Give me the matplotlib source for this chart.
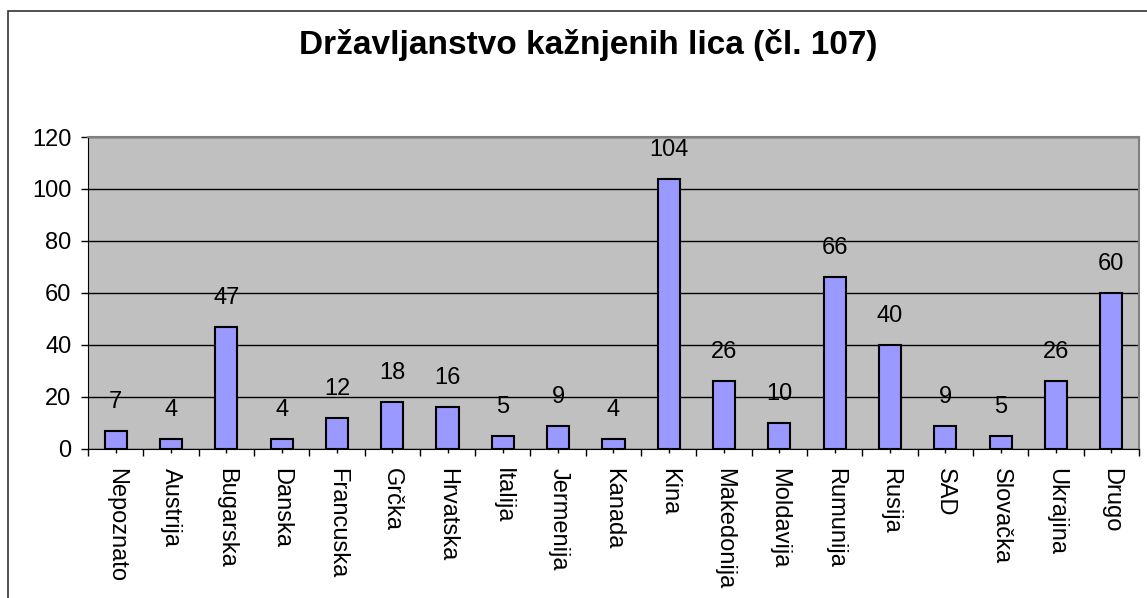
import matplotlib.pyplot as plt
import numpy as np
from matplotlib.patches import Rectangle

plt.rcParams['font.family'] = ['Liberation Sans', 'DejaVu Sans']

countries = ['Nepoznato', 'Austrija', 'Bugarska', 'Danska', 'Francuska', 'Grčka',
             'Hrvatska', 'Italija', 'Jermenija', 'Kanada', 'Kina', 'Makedonija',
             'Moldavija', 'Rumunija', 'Rusija', 'SAD', 'Slovačka', 'Ukrajina', 'Drugo']
counts = [7, 4, 47, 4, 12, 18, 16, 5, 9, 4, 104, 26, 10, 66, 40, 9, 5, 26, 60]
yticks = [0, 20, 40, 60, 80, 100, 120]

fig = plt.figure(figsize=(11.47, 5.98), dpi=100)
ax = fig.add_axes([0.0767, 0.2492, 0.9163, 0.5217])

# outer chart frame (cropped at right and bottom)
fig.patches.append(Rectangle((0.007, -0.1), 1.1, 1.0816, transform=fig.transFigure,
                             fill=False, edgecolor='#333333', linewidth=1.2, clip_on=False))

x = np.arange(len(countries))
ax.set_facecolor('#C0C0C0')
ax.bar(x, counts, width=0.4, color='#9999FF', edgecolor='black', linewidth=1.5, zorder=3)

for xi, v in zip(x, counts):
    ax.annotate(str(v), (xi, v), xytext=(0, 13), textcoords='offset points',
                ha='center', va='bottom', fontsize=17, zorder=4)

ax.set_xlim(-0.5, len(countries) - 0.5)
ax.set_ylim(0, 120)
ax.set_yticks(yticks)
ax.yaxis.grid(True, color='black', linewidth=1)
ax.set_axisbelow(True)

ax.set_xticks(np.arange(len(countries) + 1) - 0.5)
ax.set_xticklabels([])
ax.set_xticks(x, minor=True)
ax.set_xticklabels(countries, minor=True, rotation=-90, fontsize=17, va='top', ha='center')
ax.tick_params(axis='x', which='major', length=5, width=1)
ax.tick_params(axis='x', which='minor', length=3, width=1, pad=11)
ax.tick_params(axis='y', length=5, width=1, labelsize=17, pad=7)

ax.spines['top'].set_color('#808080')
ax.spines['right'].set_color('#808080')
ax.spines['top'].set_linewidth(1.5)
ax.spines['right'].set_linewidth(1.5)
ax.spines['left'].set_color('black')
ax.spines['bottom'].set_color('black')

fig.text(0.513, 0.925, 'Državljanstvo kažnjenih lica (čl. 107)', ha='center', va='center',
         fontsize=24, fontweight='bold')

fig.savefig('out.png', dpi=100)
